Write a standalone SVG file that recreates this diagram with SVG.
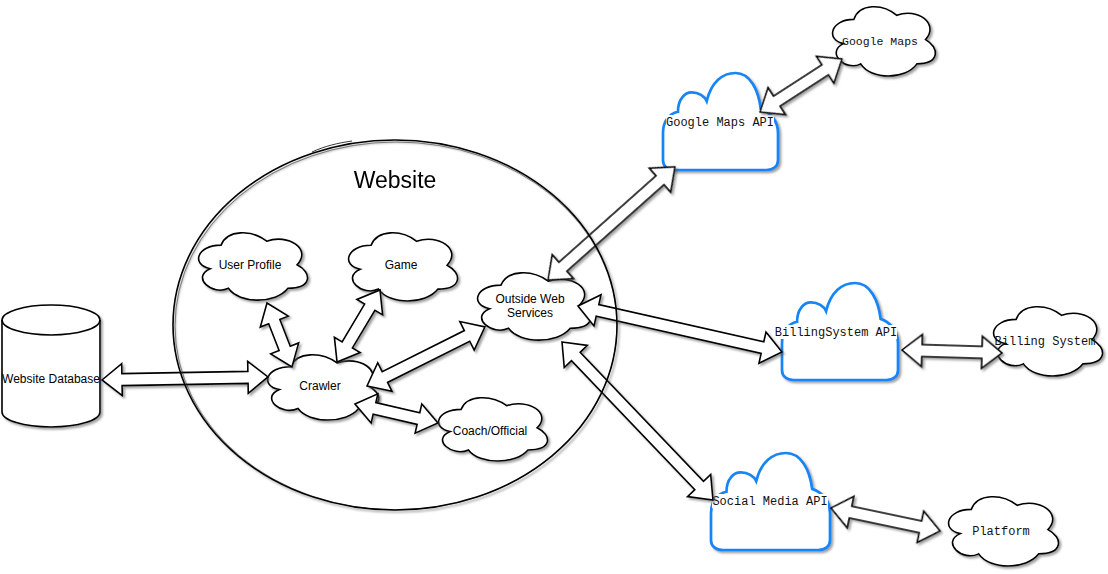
<svg xmlns="http://www.w3.org/2000/svg" xmlns:xlink="http://www.w3.org/1999/xlink" width="1108" height="574" viewBox="0 0 1108 574">
  <defs>
    <filter id="shadow" x="-10%" y="-10%" width="130%" height="130%">
      <feDropShadow dx="2" dy="2" stdDeviation="0.8" flood-color="#555" flood-opacity="0.55"/>
    </filter>
    <!-- puffy cloud outline, 100 x 100 units -->
    <path id="cloud" vector-effect="non-scaling-stroke"
          d="M25,25 C5,25 0,50 16,55 C0,66 18,90 31,80 C40,100 70,100 80,80 C100,80 100,60 87.5,50 C100,30 80,10 62.5,20 C50,5 30,5 25,25 Z"/>
    <!-- service cloud: flat base with two bumps, 100 x 100 units -->
    <path id="bcloud" vector-effect="non-scaling-stroke"
          d="M0,90 L0,62 C0,50 5,42 13,40 C13,27 19,20 25,20 C31,20 36,24 38,29 C42,9 52,0 63,0 C76,0 83,18 85,37 C94,41 100,50 100,62 L100,90 C100,96 96,100 90,100 L10,100 C4,100 0,96 0,90 Z"/>
    <style>
      .sh { filter: url(#shadow); }
      .cl { fill: #fff; stroke: #000; stroke-width: 1.6; }
      .bl { fill: #fff; stroke: #1685f5; stroke-width: 2.7; }
      .arrow { fill: #fff; stroke: #000; stroke-width: 1.6; stroke-linejoin: miter; }
      .lbl { font-family: "Liberation Sans", Arial, sans-serif; font-size: 12px; text-anchor: middle; fill: #000; }
      .mono { font-family: "Liberation Mono", "Courier New", monospace; font-size: 12px; text-anchor: middle; fill: #111; }
      .bg { fill: #fff; }
    </style>
  </defs>

  <rect width="1108" height="574" fill="#fff"/>

  <!-- database -->
  <g id="website-database">
    <g class="sh">
      <path class="cl" d="M2,320 A49,15 0 0 1 100,320 L100,412 A49,15 0 0 1 2,412 Z"/>
      <path d="M2,320 A49,15 0 0 0 100,320" fill="none" stroke="#000" stroke-width="1.6"/>
    </g>
    <text class="lbl" x="51" y="383">Website Database</text>
  </g>

  <!-- clouds inside the website -->
  <g id="user-profile">
    <g class="sh"><use xlink:href="#cloud" class="cl" transform="translate(190.7,225.5) scale(1.216,0.785)"/></g>
    <text class="lbl" x="250" y="269">User Profile</text>
  </g>
  <g id="game">
    <g class="sh"><use xlink:href="#cloud" class="cl" transform="translate(340.7,225.4) scale(1.216,0.796)"/></g>
    <text class="lbl" x="401" y="269">Game</text>
  </g>
  <g id="crawler">
    <g class="sh"><use xlink:href="#cloud" class="cl" transform="translate(259.6,347.7) scale(1.239,0.761)"/></g>
    <text class="lbl" x="320" y="390">Crawler</text>
  </g>
  <g id="coach-official">
    <g class="sh"><use xlink:href="#cloud" class="cl" transform="translate(430.7,390.9) scale(1.216,0.738)"/></g>
    <text class="lbl" x="490" y="435">Coach/Official</text>
  </g>
  <g id="outside-web-services">
    <g class="sh"><use xlink:href="#cloud" class="cl" transform="translate(469.4,265.5) scale(1.261,0.785)"/></g>
    <text class="lbl" x="530" y="303">Outside Web</text>
    <text class="lbl" x="530" y="317">Services</text>
  </g>

  <!-- external services -->
  <g id="google-maps-api">
    <g class="sh"><use xlink:href="#bcloud" class="bl" transform="translate(663,73) scale(1.15,0.97)"/></g>
    <rect class="bg" x="666" y="115" width="108" height="14"/>
    <text class="mono" x="720" y="126">Google Maps API</text>
  </g>
  <g id="billingsystem-api">
    <g class="sh"><use xlink:href="#bcloud" class="bl" transform="translate(782,283) scale(1.16,0.97)"/></g>
    <rect class="bg" x="775" y="325" width="122" height="14"/>
    <text class="mono" x="836" y="336">BillingSystem API</text>
  </g>
  <g id="social-media-api">
    <g class="sh"><use xlink:href="#bcloud" class="bl" transform="translate(711,453) scale(1.19,0.97)"/></g>
    <rect class="bg" x="712" y="494" width="116" height="14"/>
    <text class="mono" x="770" y="505">Social Media API</text>
  </g>

  <g id="google-maps">
    <g class="sh"><use xlink:href="#cloud" class="cl" transform="translate(825.1,-0.8) scale(1.148,0.808)"/></g>
    <text class="mono" x="880" y="45" style="font-size:11.5px">Google Maps</text>
  </g>
  <g id="billing-system">
    <g class="sh"><use xlink:href="#cloud" class="cl" transform="translate(985.7,299.2) scale(1.216,0.808)"/></g>
    <text class="mono" x="1045" y="345">Billing System</text>
  </g>
  <g id="platform">
    <g class="sh"><use xlink:href="#cloud" class="cl" transform="translate(940.6,489.2) scale(1.227,0.808)"/></g>
    <text class="mono" x="1001" y="535">Platform</text>
  </g>

  <!-- two-headed block arrows -->
  <g id="connectors" class="sh">
    <path class="arrow" transform="translate(102,380) rotate(-1.04)" d="M0,0 L20,-16 L20,-6 L146,-6 L146,-16 L166,0 L146,16 L146,6 L20,6 L20,16 Z"/>
    <path class="arrow" transform="translate(267,303) rotate(68.7)" d="M0,0 L20,-15 L20,-6 L48.7,-6 L48.7,-15 L68.7,0 L48.7,15 L48.7,6 L20,6 L20,15 Z"/>
    <path class="arrow" transform="translate(380,290) rotate(120.8)" d="M0,0 L20,-15 L20,-6 L63.9,-6 L63.9,-15 L83.9,0 L63.9,15 L63.9,6 L20,6 L20,15 Z"/>
    <path class="arrow" transform="translate(367,386) rotate(-26.6)" d="M0,0 L20,-16 L20,-6 L111.9,-6 L111.9,-16 L131.9,0 L111.9,16 L111.9,6 L20,6 L20,16 Z"/>
    <path class="arrow" transform="translate(355,404) rotate(12.9)" d="M0,0 L20,-15 L20,-6 L65.1,-6 L65.1,-15 L85.1,0 L65.1,15 L65.1,6 L20,6 L20,15 Z"/>
    <path class="arrow" transform="translate(548,280) rotate(-41.7)" d="M0,0 L20,-16 L20,-6 L150,-6 L150,-16 L170,0 L150,16 L150,6 L20,6 L20,16 Z"/>
    <path class="arrow" transform="translate(578,306) rotate(12.7)" d="M0,0 L20,-16 L20,-6 L189.1,-6 L189.1,-16 L209.1,0 L189.1,16 L189.1,6 L20,6 L20,16 Z"/>
    <path class="arrow" transform="translate(562,342) rotate(46.3)" d="M0,0 L20,-16 L20,-6 L198.5,-6 L198.5,-16 L218.5,0 L198.5,16 L198.5,6 L20,6 L20,16 Z"/>
    <path class="arrow" transform="translate(760,112) rotate(-32.9)" d="M0,0 L20,-16 L20,-6 L77.6,-6 L77.6,-16 L97.6,0 L77.6,16 L77.6,6 L20,6 L20,16 Z"/>
    <path class="arrow" transform="translate(902,350) rotate(1.7)" d="M0,0 L20,-16 L20,-6 L80,-6 L80,-16 L100,0 L80,16 L80,6 L20,6 L20,16 Z"/>
    <path class="arrow" transform="translate(831,508) rotate(11.9)" d="M0,0 L20,-16 L20,-6 L91.4,-6 L91.4,-16 L111.4,0 L91.4,16 L91.4,6 L20,6 L20,16 Z"/>
  </g>

  <!-- website boundary -->
  <g id="website">
    <g class="sh">
      <ellipse cx="395" cy="325" rx="222" ry="185" fill="none" stroke="#000" stroke-width="1.6"/>
    </g>
    <ellipse cx="396" cy="326" rx="221" ry="184" fill="none" stroke="#000" stroke-width="0.6" opacity="0.7"/>
    <path d="M312,152 C325,146 338,143 352,141" fill="none" stroke="#000" stroke-width="0.8"/>
    <text x="395" y="188" style="font-family:'Liberation Sans', Arial, sans-serif; font-size:23px; text-anchor:middle">Website</text>
  </g>
</svg>
